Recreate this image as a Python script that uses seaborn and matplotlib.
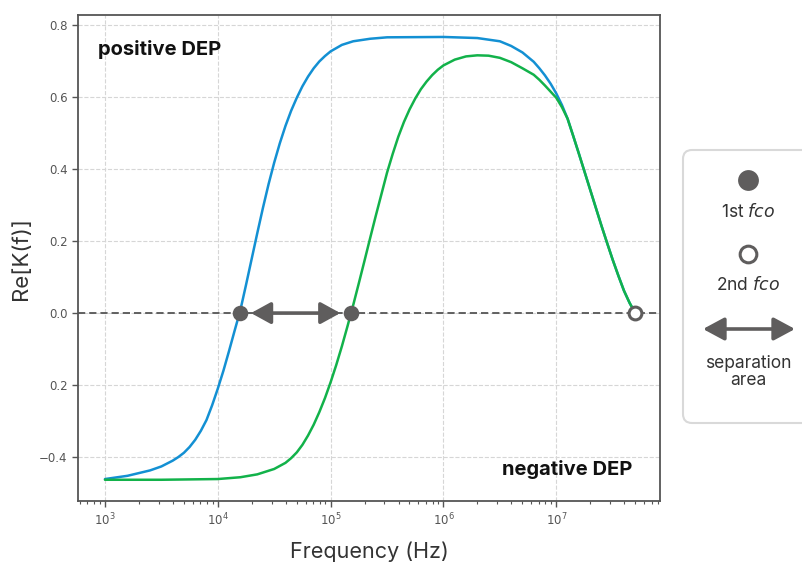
import numpy as np
import pandas as pd
import matplotlib
matplotlib.use("Agg")
import matplotlib.pyplot as plt
import seaborn as sns
from matplotlib.patches import FancyBboxPatch

# ─────────────────────────────────────────────
#  Data (log10 of frequency, Re[K(f)])
# ─────────────────────────────────────────────
blue_logf = [3.0, 3.2, 3.4, 3.5, 3.6, 3.65, 3.7, 3.75, 3.8, 3.85, 3.9, 3.95,
             4.0, 4.05, 4.1, 4.15, 4.2, 4.25, 4.3, 4.35, 4.4, 4.45, 4.5, 4.55,
             4.6, 4.65, 4.7, 4.75, 4.8, 4.85, 4.9, 4.95, 5.0, 5.1, 5.2, 5.35,
             5.5, 6.0, 6.3, 6.5, 6.6, 6.7, 6.8, 6.85, 6.9, 6.95, 7.0, 7.05,
             7.1, 7.15, 7.2, 7.25, 7.3, 7.35, 7.4, 7.45, 7.5, 7.55, 7.6, 7.65, 7.7]
blue_val = [-0.461, -0.452, -0.437, -0.426, -0.410, -0.400, -0.388, -0.372,
            -0.352, -0.327, -0.297, -0.256, -0.210, -0.160, -0.105, -0.048,
            0.008, 0.078, 0.150, 0.222, 0.292, 0.358, 0.418, 0.472, 0.520,
            0.562, 0.598, 0.630, 0.657, 0.680, 0.699, 0.714, 0.727, 0.745,
            0.755, 0.762, 0.766, 0.767, 0.764, 0.755, 0.742, 0.724, 0.698,
            0.680, 0.660, 0.637, 0.610, 0.578, 0.540, 0.492, 0.443, 0.393,
            0.343, 0.293, 0.243, 0.195, 0.148, 0.104, 0.062, 0.028, 0.0]

green_logf = [3.0, 3.5, 4.0, 4.2, 4.35, 4.5, 4.6, 4.65, 4.7, 4.75, 4.8, 4.85,
              4.9, 4.95, 5.0, 5.05, 5.1, 5.15, 5.2, 5.25, 5.3, 5.35, 5.4, 5.45,
              5.5, 5.55, 5.6, 5.65, 5.7, 5.75, 5.8, 5.85, 5.9, 5.95, 6.0, 6.1,
              6.2, 6.3, 6.4, 6.5, 6.6, 6.7, 6.8, 6.85, 6.9, 6.95, 7.0, 7.05,
              7.1, 7.15, 7.2, 7.25, 7.3, 7.35, 7.4, 7.45, 7.5, 7.55, 7.6, 7.65, 7.7]
green_val = [-0.463, -0.463, -0.461, -0.456, -0.448, -0.433, -0.416, -0.403,
             -0.387, -0.366, -0.340, -0.310, -0.275, -0.236, -0.192, -0.144,
             -0.092, -0.036, 0.022, 0.083, 0.145, 0.208, 0.270, 0.330, 0.390,
             0.442, 0.490, 0.531, 0.566, 0.596, 0.622, 0.643, 0.661, 0.676,
             0.688, 0.704, 0.713, 0.716, 0.715, 0.709, 0.697, 0.680, 0.662,
             0.648, 0.632, 0.615, 0.598, 0.572, 0.540, 0.492, 0.443, 0.393,
             0.343, 0.293, 0.243, 0.195, 0.148, 0.104, 0.062, 0.028, 0.0]

first_fco = [1.57e4, 1.53e5]   # filled markers
second_fco = [5.0e7]           # open marker

ytick_vals = [-0.4, -0.2, 0.0, 0.2, 0.4, 0.6, 0.8]
ytick_labels = ["\u22120.4", "0.2", "0.0", "0.2", "0.4", "0.6", "0.8"]

BLUE = "#1390d3"
GREEN = "#12b24a"
GREY = "#5f5d5d"
TEXT = "#333333"

sns.set_theme(style="white")
plt.rcParams["font.family"] = ["Inter", "DejaVu Sans"]

df = pd.concat([
    pd.DataFrame({"freq": 10 ** np.array(blue_logf), "re_k": blue_val, "cell": "blue"}),
    pd.DataFrame({"freq": 10 ** np.array(green_logf), "re_k": green_val, "cell": "green"}),
])

fig = plt.figure(figsize=(8.03, 5.65), dpi=100)
ax = fig.add_axes([78 / 803, 1 - 501 / 565, 582 / 803, 486 / 565])

sns.lineplot(data=df, x="freq", y="re_k", hue="cell", hue_order=["blue", "green"],
             palette=[BLUE, GREEN], linewidth=1.8, legend=False, ax=ax, zorder=3)

ax.set_xscale("log")
ax.set_xlim(577, 8.3e7)
ax.set_ylim(-0.522, 0.828)
ax.set_yticks(ytick_vals)
ax.set_yticklabels(ytick_labels)
ax.set_xticks([1e3, 1e4, 1e5, 1e6, 1e7])

ax.grid(True, which="major", ls="--", color="#d6d6d6", lw=0.8)
ax.axhline(0, color="#555555", ls="--", lw=1.3, dashes=(4, 2.2), zorder=2)

for sp in ax.spines.values():
    sp.set_color("#555555")
    sp.set_linewidth(1.3)
ax.tick_params(which="major", direction="out", length=4, width=1, color="#555555",
               labelsize=8.5, labelcolor="#555555", left=True, bottom=True)
ax.tick_params(which="minor", direction="out", length=2.5, width=0.8, color="#555555",
               bottom=True)
for lbl in ax.get_xticklabels() + ax.get_yticklabels():
    lbl.set_fontfamily("DejaVu Sans")

# crossover markers and separation arrow
ax.scatter(first_fco, [0] * len(first_fco), s=125, color=GREY, zorder=6, linewidths=0)
ax.scatter(second_fco, [0] * len(second_fco), s=85, facecolor="white", edgecolor=GREY,
           linewidths=2.2, zorder=6)
ax.annotate("", xy=(first_fco[0], 0), xytext=(first_fco[1], 0),
            arrowprops=dict(arrowstyle="<|-|>,head_length=0.6,head_width=0.33",
                            color=GREY, lw=2.6, shrinkA=8, shrinkB=8,
                            mutation_scale=20), zorder=5)

ax.text(0.034, 0.928, "positive DEP", transform=ax.transAxes, fontsize=14.5,
        fontweight="bold", color="#111111", ha="left", va="center")
ax.text(0.952, 0.064, "negative DEP", transform=ax.transAxes, fontsize=14.5,
        fontweight="bold", color="#111111", ha="right", va="center")

ax.set_xlabel("Frequency (Hz)", fontsize=15.5, color=TEXT, labelpad=10)
ax.set_ylabel("Re[K(f)]", fontsize=16, color=TEXT, labelpad=6)

# ── legend panel drawn in figure pixel units ──
lax = fig.add_axes([0, 0, 1, 1], facecolor="none")
lax.set_xlim(0, 803)
lax.set_ylim(565, 0)
lax.set_axis_off()
lax.add_patch(FancyBboxPatch((683, 150), 160, 273,
                             boxstyle="round,pad=0,rounding_size=9",
                             fc="white", ec="#d9d9d9", lw=1.5))
cx = 748
lax.plot(cx, 180, "o", ms=15, color=GREY, mew=0)
lax.text(cx, 212, r"1st $\mathit{fco}$", ha="center", va="center", fontsize=12.5, color=TEXT)
lax.plot(cx, 254, "o", ms=12, mfc="white", mec=GREY, mew=2.2)
lax.text(cx, 285, r"2nd $\mathit{fco}$", ha="center", va="center", fontsize=12.5, color=TEXT)
lax.annotate("", xy=(703, 329), xytext=(795, 329),
             arrowprops=dict(arrowstyle="<|-|>,head_length=0.65,head_width=0.35",
                             color=GREY, lw=2.6, shrinkA=0, shrinkB=0,
                             mutation_scale=20))
lax.text(cx, 372, "separation\narea", ha="center", va="center", fontsize=12.5,
         color=TEXT, linespacing=1.05)

fig.savefig("out.png", dpi=100)
